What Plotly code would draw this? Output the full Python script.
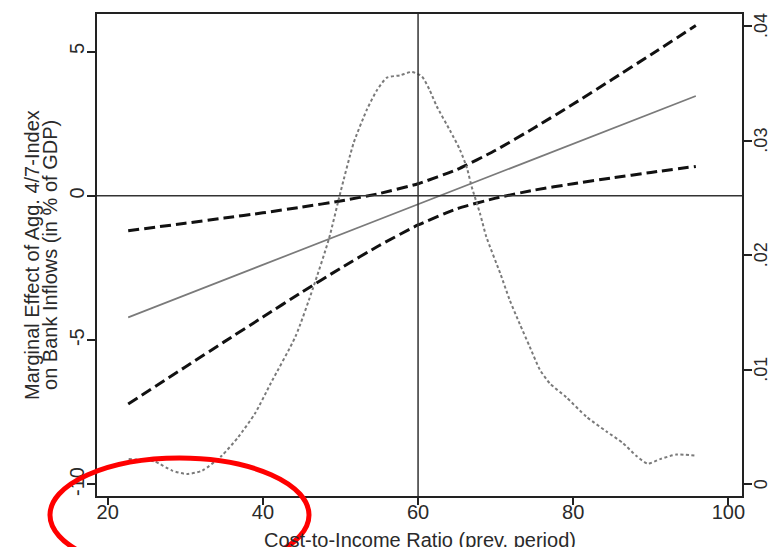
import plotly.graph_objects as go

# ---- data ----
ci_x = [22.64, 30, 35, 40, 45, 50, 55, 60, 65, 70, 75, 80, 85, 90, 95.8]
ci_upper = [-1.21, -0.95, -0.77, -0.59, -0.39, -0.18, 0.08, 0.42, 0.91, 1.58, 2.36, 3.18, 4.03, 4.89, 5.90]
ci_lower = [-7.21, -5.93, -5.06, -4.20, -3.34, -2.51, -1.72, -1.01, -0.45, -0.08, 0.20, 0.42, 0.62, 0.81, 1.02]

me_x = [22.64, 95.8]
me_y = [-4.21, 3.46]

dens_x = [22.7, 26.0, 28.3, 30.2, 32.2, 34.7, 36.8, 39.0, 41.0, 44.2, 46.5, 48.5, 50.0, 51.7,
          53.4, 54.7, 56.0, 57.7, 59.2, 60.5, 61.5, 62.4, 64.1, 65.4, 66.3, 66.9, 68.0, 68.8,
          70.6, 71.8, 73.1, 74.4, 75.7, 77.0, 79.1, 81.7, 84.3, 86.4, 88.1, 89.6, 91.2, 93.3, 95.8]
dens_y = [.0022, .0020, .0012, .0009, .0012, .0025, .0041, .0062, .0088, .0129, .0172, .0214,
          .0255, .0298, .0327, .0344, .0355, .0357, .0360, .0356, .0344, .0330, .0309, .0292,
          .0276, .0260, .0236, .0216, .0184, .0161, .0140, .0120, .0100, .0088, .0076, .0059,
          .0046, .0036, .0025, .0018, .0022, .0026, .0025]

x_ticks = [20, 40, 60, 80, 100]
y_ticks = [-10, -5, 0, 5]
y_ticktext = ["-10", "-5", "0", "5"]
y2_ticks = [0, 0.01, 0.02, 0.03, 0.04]
y2_ticktext = ["0", ".01", ".02", ".03", ".04"]

x_title = "Cost-to-Income Ratio (prev. period)"
y_title_lines = ["Marginal Effect of Agg. 4/7-Index", "on Bank Inflows (in % of GDP)"]
ref_x = 60
ref_y = 0

FONT = "Liberation Sans, Arial, sans-serif"
TXT = "#2a2a2a"
AX = "#222222"

fig = go.Figure()

fig.add_trace(go.Scatter(x=dens_x, y=dens_y, yaxis="y2", mode="lines",
                         line=dict(color="#7a7a7a", width=2, dash="3px,2.5px", shape="spline", smoothing=0.6),
                         showlegend=False, hoverinfo="skip"))
fig.add_trace(go.Scatter(x=me_x, y=me_y, mode="lines",
                         line=dict(color="#7a7a7a", width=1.7),
                         showlegend=False, hoverinfo="skip"))
fig.add_trace(go.Scatter(x=ci_x, y=ci_upper, mode="lines",
                         line=dict(color="#111111", width=3, dash="11px,5px", shape="spline", smoothing=0.5),
                         showlegend=False, hoverinfo="skip"))
fig.add_trace(go.Scatter(x=ci_x, y=ci_lower, mode="lines",
                         line=dict(color="#111111", width=3, dash="11px,5px", shape="spline", smoothing=0.5),
                         showlegend=False, hoverinfo="skip"))

annotations = [
    dict(text=x_title, xref="paper", yref="paper", x=0.5, y=-0.0913, xanchor="center",
         yanchor="middle", showarrow=False, font=dict(size=20, color=TXT)),
    dict(text=y_title_lines[0], xref="paper", yref="paper", x=-0.1008, y=0.5, xanchor="center",
         yanchor="middle", textangle=-90, showarrow=False, font=dict(size=20, color=TXT)),
    dict(text=y_title_lines[1], xref="paper", yref="paper", x=-0.0729, y=0.5, xanchor="center",
         yanchor="middle", textangle=-90, showarrow=False, font=dict(size=20, color=TXT)),
]
# right-axis tick labels (rotated), placed via the y2 scale
for v, t in zip(y2_ticks, y2_ticktext):
    annotations.append(dict(text=t, xref="paper", yref="y2", x=1.0295, y=v, xanchor="center",
                            yanchor="middle", textangle=-90, showarrow=False,
                            font=dict(size=18, color=TXT)))

fig.update_layout(
    width=769, height=547,
    margin=dict(l=97, r=27, t=14, b=51, autoexpand=False),
    paper_bgcolor="white", plot_bgcolor="white",
    font=dict(family=FONT, color=TXT, size=20),
    xaxis=dict(range=[18.62, 101.75], tickvals=x_ticks, ticks="outside", ticklen=7, tickwidth=1.5,
               tickcolor=AX, showline=True, linecolor=AX, linewidth=1.5, mirror=True,
               showgrid=False, zeroline=False, tickfont=dict(size=20, color=TXT), automargin=False,
               ticklabelstandoff=-10),
    yaxis=dict(range=[-10.40, 6.30], tickvals=y_ticks, ticktext=y_ticktext, tickangle=-90,
               ticks="outside", ticklen=8, tickwidth=1.5, tickcolor=AX, showline=True,
               linecolor=AX, linewidth=1.5, showgrid=False, zeroline=False,
               tickfont=dict(size=20, color=TXT), ticklabelstandoff=-5, automargin=False),
    yaxis2=dict(range=[-0.00102, 0.04105], overlaying="y", side="right", tickvals=y2_ticks,
                showticklabels=False, ticks="outside", ticklen=8, tickwidth=1.5,
                tickcolor=AX, showline=True, linecolor=AX, linewidth=1.5, showgrid=False,
                zeroline=False, automargin=False),
    shapes=[
        dict(type="line", xref="paper", x0=0, x1=1, yref="y", y0=ref_y, y1=ref_y,
             line=dict(color="#333333", width=1.5)),
        dict(type="line", xref="x", x0=ref_x, x1=ref_x, yref="paper", y0=0, y1=1,
             line=dict(color="#333333", width=1.5)),
        dict(type="circle", xref="paper", yref="paper", x0=-0.0729, x1=0.3287, y0=-0.1577, y1=0.0788,
             line=dict(color="#ff0000", width=5), layer="above"),
    ],
    annotations=annotations,
)

# remove the default page margin / scrollbars so the 769x547 figure fills the window
fig.write_html("out.html", config={"displayModeBar": False},
               post_script="document.body.style.margin='0';document.body.style.overflow='hidden';")
